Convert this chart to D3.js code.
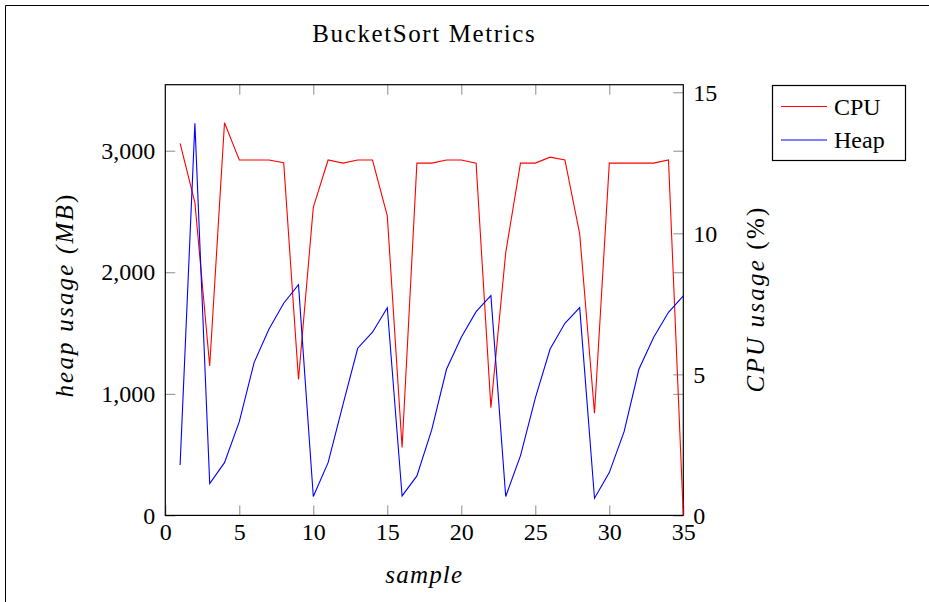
<!DOCTYPE html>
<html>
<head>
<meta charset="utf-8">
<script src="https://cdn.jsdelivr.net/npm/d3@7"></script>
<style>
  html, body { margin: 0; padding: 0; background: #fff; }
  svg { display: block; }
  text { font-family: "Liberation Serif", "DejaVu Serif", serif; fill: #000; }
</style>
</head>
<body>
<svg id="chart" width="929" height="602"></svg>
<script>
// ---- data ----
const samples = d3.range(1, 36);
const cpuValues = [13.19, 11.09, 5.30, 13.92, 12.6, 12.6, 12.6, 12.5, 4.82, 10.92,
                   12.6, 12.49, 12.6, 12.6, 10.62, 2.41, 12.49, 12.49, 12.6, 12.6,
                   12.49, 3.82, 9.31, 12.49, 12.49, 12.7, 12.6, 9.98, 3.62, 12.49,
                   12.49, 12.49, 12.49, 12.6, 0];
const heapValues = [415, 3225, 262, 434, 771, 1257, 1531, 1745, 1898, 155,
                    434, 909, 1375, 1507, 1709, 160, 325, 703, 1202, 1465,
                    1676, 1808, 155, 492, 964, 1369, 1580, 1709, 141, 352,
                    689, 1202, 1465, 1671, 1805];
const xTicks = [0, 5, 10, 15, 20, 25, 30, 35];
const heapTicks = [0, 1000, 2000, 3000];
const cpuTicks = [0, 5, 10, 15];
const seriesNames = ["CPU", "Heap"];
const seriesColors = ["#ff0000", "#0000ff"];

// ---- layout ----
const svg = d3.select("#chart");
const L = 165.3, R = 683.3, T = 84.7, B = 515.4;
const x = d3.scaleLinear().domain([0, 35]).range([L, R]);
const yHeap = d3.scaleLinear().domain([0, 3543]).range([B, T]);
const yCpu = d3.scaleLinear().domain([0, 15.27]).range([B, T]);
const fs = 24;

// outer frame
svg.append("path").attr("d", `M5.5,602 V5.5 H929`).attr("fill", "none").attr("stroke", "#000").attr("stroke-width", 1);

// title
svg.append("text").attr("x", (L + R) / 2).attr("y", 42).attr("text-anchor", "middle")
  .attr("font-size", 25).attr("letter-spacing", 1.6).text("BucketSort Metrics");

function styleAxis(g, showLabels) {
  g.select(".domain").remove();
  g.selectAll(".tick line").attr("stroke", "#8c8c8c").attr("stroke-width", 1);
  g.selectAll(".tick text").attr("font-size", fs).attr("font-family", "Liberation Serif").attr("fill", "#000");
  if (!showLabels) g.selectAll(".tick text").remove();
}

const tick = 10;
// bottom
svg.append("g").attr("transform", `translate(0,${B})`)
  .call(d3.axisBottom(x).tickValues(xTicks).tickSizeInner(-tick).tickSizeOuter(0).tickPadding(8).tickFormat(d3.format("d")))
  .call(g => styleAxis(g, true));
// top
svg.append("g").attr("transform", `translate(0,${T})`)
  .call(d3.axisTop(x).tickValues(xTicks.slice(1, -1)).tickSizeInner(-tick).tickSizeOuter(0))
  .call(g => styleAxis(g, false));
// left (heap)
svg.append("g").attr("transform", `translate(${L},0)`)
  .call(d3.axisLeft(yHeap).tickValues(heapTicks).tickSizeInner(-tick).tickSizeOuter(0).tickPadding(10).tickFormat(d3.format(",")))
  .call(g => styleAxis(g, true));
// right mirror of heap ticks
svg.append("g").attr("transform", `translate(${R},0)`)
  .call(d3.axisRight(yHeap).tickValues(heapTicks.slice(1)).tickSizeInner(-tick).tickSizeOuter(0))
  .call(g => styleAxis(g, false));
// right (cpu)
svg.append("g").attr("transform", `translate(${R},0)`)
  .call(d3.axisRight(yCpu).tickValues(cpuTicks).tickSizeInner(-tick).tickSizeOuter(0).tickPadding(10).tickFormat(d3.format("d")))
  .call(g => styleAxis(g, true));

// plot frame
svg.append("rect").attr("x", L).attr("y", T).attr("width", R - L).attr("height", B - T)
  .attr("fill", "none").attr("stroke", "#000").attr("stroke-width", 1.2);

// lines
const cpuLine = d3.line().x((d, i) => x(samples[i])).y(d => yCpu(d));
const heapLine = d3.line().x((d, i) => x(samples[i])).y(d => yHeap(d));
svg.append("path").datum(cpuValues).attr("d", cpuLine).attr("fill", "none")
  .attr("stroke", seriesColors[0]).attr("stroke-width", 1.1).attr("stroke-linejoin", "miter");
svg.append("path").datum(heapValues).attr("d", heapLine).attr("fill", "none")
  .attr("stroke", seriesColors[1]).attr("stroke-width", 1.1).attr("stroke-linejoin", "miter");

// axis labels
svg.append("text").attr("x", (L + R) / 2).attr("y", 583).attr("text-anchor", "middle")
  .attr("font-size", 25).attr("letter-spacing", 1.2).attr("font-style", "italic").text("sample");
svg.append("text").attr("transform", `translate(73,295) rotate(-90)`).attr("text-anchor", "middle")
  .attr("font-size", 25).attr("letter-spacing", 2.2).attr("font-style", "italic")
  .call(t => { t.append("tspan").text("heap usage ("); t.append("tspan").text("MB"); t.append("tspan").attr("font-style", "normal").text(")"); });
svg.append("text").attr("transform", `translate(764,299) rotate(-90)`).attr("text-anchor", "middle")
  .attr("font-size", 25).attr("letter-spacing", 2.2).attr("font-style", "italic")
  .call(t => { t.append("tspan").text("CPU usage "); t.append("tspan").attr("font-style", "normal").text("(%)"); });

// legend
const lg = svg.append("g");
lg.append("rect").attr("x", 772.5).attr("y", 85.5).attr("width", 133).attr("height", 75)
  .attr("fill", "#fff").attr("stroke", "#000").attr("stroke-width", 1.2);
seriesNames.forEach((name, i) => {
  const yy = 106.5 + i * 33.5;
  lg.append("line").attr("x1", 781).attr("x2", 827).attr("y1", yy).attr("y2", yy)
    .attr("stroke", seriesColors[i]).attr("stroke-width", 1.1);
  lg.append("text").attr("x", 834).attr("y", yy).attr("dy", "0.35em").attr("font-size", fs).text(name);
});
</script>
</body>
</html>
